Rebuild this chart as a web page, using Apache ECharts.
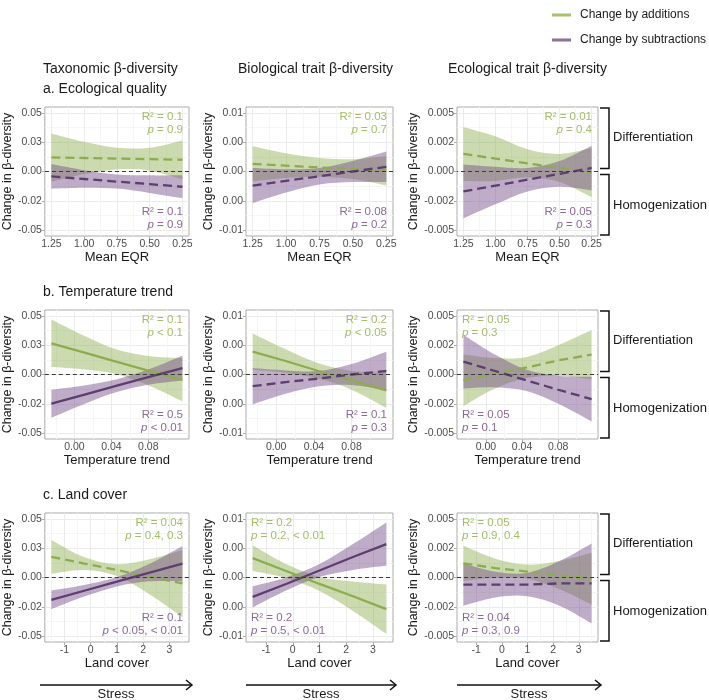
<!DOCTYPE html>
<html>
<head>
<meta charset="utf-8">
<script src="https://cdn.jsdelivr.net/npm/echarts@6/dist/echarts.min.js"></script>
<style>html,body{margin:0;padding:0;background:#fff}#chart{width:709px;height:700px}</style>
</head>
<body>
<div id="chart"></div>
<script>
const xEqr = [1.25, 1.0, 0.75, 0.5, 0.25];
const xTemp = [-0.025, 0.01, 0.045, 0.08, 0.117];
const xLand = [-1.5, -0.25, 1, 2.25, 3.5];

// a. Ecological quality
const taxEqrAddFit = [0.0120, 0.0115, 0.0110, 0.0105, 0.0100];
const taxEqrAddLo  = [-0.0085, -0.0023, 0.0018, 0.0007, -0.0065];
const taxEqrAddHi  = [0.0325, 0.0253, 0.0202, 0.0203, 0.0265];
const taxEqrSubFit = [-0.0042, -0.0064, -0.0086, -0.0108, -0.0130];
const taxEqrSubLo  = [-0.0147, -0.0139, -0.0146, -0.0183, -0.0228];
const taxEqrSubHi  = [0.0063, 0.0011, -0.0026, -0.0033, -0.0032];

const bioEqrAddFit = [0.0013, 0.0010, 0.0007, 0.0004, 0.0001];
const bioEqrAddLo  = [-0.0017, -0.0011, -0.0009, -0.0013, -0.0024];
const bioEqrAddHi  = [0.0043, 0.0031, 0.0023, 0.0021, 0.0026];
const bioEqrSubFit = [-0.0024, -0.0016, -0.0008, 0.0000, 0.0008];
const bioEqrSubLo  = [-0.0054, -0.0036, -0.0022, -0.0018, -0.0018];
const bioEqrSubHi  = [0.0006, 0.0004, 0.0006, 0.0018, 0.0034];

const ecoEqrAddFit = [0.0015, 0.0011, 0.0007, 0.0003, -0.0001];
const ecoEqrAddLo  = [-0.0008, -0.0008, -0.0005, -0.0009, -0.0022];
const ecoEqrAddHi  = [0.0038, 0.0030, 0.0019, 0.0015, 0.0020];
const ecoEqrSubFit = [-0.0017, -0.0012, -0.0007, -0.0002, 0.0003];
const ecoEqrSubLo  = [-0.0040, -0.0028, -0.0017, -0.0013, -0.0016];
const ecoEqrSubHi  = [0.0006, 0.0004, 0.0003, 0.0009, 0.0022];

// b. Temperature trend
const taxTempAddFit = [0.0266, 0.0188, 0.0110, 0.0033, -0.0045];
const taxTempAddLo  = [0.0063, 0.0043, 0.0005, -0.0092, -0.0230];
const taxTempAddHi  = [0.0469, 0.0333, 0.0215, 0.0158, 0.0140];
const taxTempSubFit = [-0.0249, -0.0173, -0.0097, -0.0022, 0.0054];
const taxTempSubLo  = [-0.0369, -0.0253, -0.0152, -0.0087, -0.0051];
const taxTempSubHi  = [-0.0129, -0.0093, -0.0042, 0.0043, 0.0159];

const bioTempAddFit = [0.0039, 0.0023, 0.0006, -0.0010, -0.0027];
const bioTempAddLo  = [0.0008, 0.0003, -0.0007, -0.0026, -0.0057];
const bioTempAddHi  = [0.0070, 0.0043, 0.0019, 0.0006, 0.0003];
const bioTempSubFit = [-0.0020, -0.0013, -0.0007, 0.0000, 0.0006];
const bioTempSubLo  = [-0.0051, -0.0033, -0.0020, -0.0018, -0.0027];
const bioTempSubHi  = [0.0011, 0.0007, 0.0006, 0.0018, 0.0039];

const ecoTempAddFit = [-0.0005, 0.0001, 0.0006, 0.0012, 0.0017];
const ecoTempAddLo  = [-0.0027, -0.0012, -0.0003, -0.0001, -0.0004];
const ecoTempAddHi  = [0.0017, 0.0014, 0.0015, 0.0025, 0.0038];
const ecoTempSubFit = [0.0011, 0.0003, -0.0005, -0.0013, -0.0021];
const ecoTempSubLo  = [-0.0012, -0.0011, -0.0014, -0.0025, -0.0040];
const ecoTempSubHi  = [0.0034, 0.0017, 0.0004, -0.0001, -0.0002];

// c. Land cover
const taxLandAddFit = [0.0176, 0.0119, 0.0063, 0.0006, -0.0051];
const taxLandAddLo  = [0.0032, 0.0064, 0.0013, -0.0144, -0.0336];
const taxLandAddHi  = [0.0320, 0.0174, 0.0113, 0.0156, 0.0234];
const taxLandSubFit = [-0.0190, -0.0113, -0.0036, 0.0042, 0.0119];
const taxLandSubLo  = [-0.0270, -0.0163, -0.0076, -0.0033, -0.0031];
const taxLandSubHi  = [-0.0110, -0.0063, 0.0004, 0.0117, 0.0269];

const bioLandAddFit = [0.0033, 0.0011, -0.0011, -0.0032, -0.0054];
const bioLandAddLo  = [0.0011, -0.0001, -0.0023, -0.0057, -0.0096];
const bioLandAddHi  = [0.0055, 0.0023, 0.0001, -0.0007, -0.0012];
const bioLandSubFit = [-0.0033, -0.0011, 0.0012, 0.0035, 0.0057];
const bioLandSubLo  = [-0.0051, -0.0022, 0.0001, 0.0013, 0.0020];
const bioLandSubHi  = [-0.0015, 0.0000, 0.0023, 0.0057, 0.0094];

const ecoLandAddFit = [0.0012, 0.0008, 0.0005, 0.0002, -0.0001];
const ecoLandAddLo  = [-0.0003, 0.0000, -0.0001, -0.0010, -0.0023];
const ecoLandAddHi  = [0.0027, 0.0016, 0.0011, 0.0014, 0.0021];
const ecoLandSubFit = [-0.0006, -0.0006, -0.0006, -0.0005, -0.0005];
const ecoLandSubLo  = [-0.0024, -0.0017, -0.0016, -0.0024, -0.0039];
const ecoLandSubHi  = [0.0012, 0.0005, 0.0004, 0.0014, 0.0029];

// panel order: a1 a2 a3 b1 b2 b3 c1 c2 c3
const addDashed = [true, true, true, false, false, true, true, false, true];
const subDashed = [true, true, true, false, true, true, false, false, true];
const addR2 = ['0.1', '0.03', '0.01', '0.1', '0.2', '0.05', '0.04', '0.2', '0.05'];
const addP  = ['= 0.9', '= 0.7', '= 0.4', '< 0.1', '< 0.05', '= 0.3', '= 0.4, 0.3', '= 0.2, < 0.01', '= 0.9, 0.4'];
const subR2 = ['0.1', '0.08', '0.05', '0.5', '0.1', '0.05', '0.1', '0.2', '0.04'];
const subP  = ['= 0.9', '= 0.2', '= 0.3', '< 0.01', '= 0.3', '= 0.1', '< 0.05, < 0.01', '= 0.5, < 0.01', '= 0.3, 0.9'];
const noteSide = ['right', 'right', 'right', 'right', 'right', 'left', 'right', 'left', 'left'];

// axis ticks and labels
const yTicksTax = [-0.05, -0.025, 0, 0.025, 0.05];
const yLabelsTax = ['-0.05', '-0.02', '0.00', '0.03', '0.05'];
const yTicksBio = [-0.01, -0.005, 0, 0.005, 0.01];
const yLabelsBio = ['-0.01', '0.00', '0.00', '0.00', '0.01'];
const yTicksEco = [-0.005, -0.0025, 0, 0.0025, 0.005];
const yLabelsEco = ['-0.005', '-0.002', '0.000', '0.002', '0.005'];
const xTicksEqr = [0.25, 0.5, 0.75, 1.0, 1.25];
const xLabelsEqr = ['0.25', '0.50', '0.75', '1.00', '1.25'];
const xTicksTemp = [0, 0.04, 0.08];
const xLabelsTemp = ['0.00', '0.04', '0.08'];
const xTicksLand = [-1, 0, 1, 2, 3];
const xLabelsLand = ['-1', '0', '1', '2', '3'];

const columnTitles = ['Taxonomic β-diversity', 'Biological trait β-diversity', 'Ecological trait β-diversity'];
const rowTitles = ['a. Ecological quality', 'b. Temperature trend', 'c. Land cover'];
const xNames = ['Mean EQR', 'Temperature trend', 'Land cover'];
const legendNames = ['Change by additions', 'Change by subtractions'];

const FONT = '"Liberation Sans", Arial, sans-serif';
const GREEN_LINE = '#8dac4f';
const PURPLE_LINE = '#5e3e6e';
const GREEN_FILL = 'rgba(141,176,78,0.45)';
const PURPLE_FILL = 'rgba(112,72,132,0.45)';
const GREEN_TEXT = '#a4bd69';
const PURPLE_TEXT = '#8a6b97';

// layout of the 3x3 panels
const colLeft = [40, 246, 457];
const colWidth = [149, 147, 141];
const rowTop = [107, 310, 513];
const rowHeight = 129;
const yNameGap = [25, 25, 32];

const panelSeries = [
  [taxEqrAddFit, taxEqrAddLo, taxEqrAddHi, taxEqrSubFit, taxEqrSubLo, taxEqrSubHi],
  [bioEqrAddFit, bioEqrAddLo, bioEqrAddHi, bioEqrSubFit, bioEqrSubLo, bioEqrSubHi],
  [ecoEqrAddFit, ecoEqrAddLo, ecoEqrAddHi, ecoEqrSubFit, ecoEqrSubLo, ecoEqrSubHi],
  [taxTempAddFit, taxTempAddLo, taxTempAddHi, taxTempSubFit, taxTempSubLo, taxTempSubHi],
  [bioTempAddFit, bioTempAddLo, bioTempAddHi, bioTempSubFit, bioTempSubLo, bioTempSubHi],
  [ecoTempAddFit, ecoTempAddLo, ecoTempAddHi, ecoTempSubFit, ecoTempSubLo, ecoTempSubHi],
  [taxLandAddFit, taxLandAddLo, taxLandAddHi, taxLandSubFit, taxLandSubLo, taxLandSubHi],
  [bioLandAddFit, bioLandAddLo, bioLandAddHi, bioLandSubFit, bioLandSubLo, bioLandSubHi],
  [ecoLandAddFit, ecoLandAddLo, ecoLandAddHi, ecoLandSubFit, ecoLandSubLo, ecoLandSubHi],
];

const rowX = [
  { x: xEqr, min: 0.2, max: 1.3, inverse: true, ticks: xTicksEqr, labels: xLabelsEqr, minor: [0.375, 0.625, 0.875, 1.125] },
  { x: xTemp, min: -0.0321, max: 0.1241, inverse: false, ticks: xTicksTemp, labels: xLabelsTemp, minor: [-0.02, 0.02, 0.06, 0.1] },
  { x: xLand, min: -1.75, max: 3.75, inverse: false, ticks: xTicksLand, labels: xLabelsLand, minor: [-1.5, -0.5, 0.5, 1.5, 2.5, 3.5] },
];
const colY = [
  { lim: 0.055, ticks: yTicksTax, labels: yLabelsTax, minor: [-0.0375, -0.0125, 0.0125, 0.0375] },
  { lim: 0.011, ticks: yTicksBio, labels: yLabelsBio, minor: [-0.0075, -0.0025, 0.0025, 0.0075] },
  { lim: 0.0055, ticks: yTicksEco, labels: yLabelsEco, minor: [-0.00375, -0.00125, 0.00125, 0.00375] },
];

const labelOf = (ticks, labels) => (v) => {
  const k = ticks.findIndex(t => Math.abs(t - v) < 1e-9);
  return k >= 0 ? labels[k] : '';
};

// smooth curve through pixel points (Catmull-Rom as cubic Beziers)
function curveTo(pts) {
  let d = '';
  for (let i = 0; i < pts.length - 1; i++) {
    const p0 = pts[i - 1] || pts[i], p1 = pts[i], p2 = pts[i + 1], p3 = pts[i + 2] || pts[i + 1];
    const c1 = [p1[0] + (p2[0] - p0[0]) / 6, p1[1] + (p2[1] - p0[1]) / 6];
    const c2 = [p2[0] - (p3[0] - p1[0]) / 6, p2[1] - (p3[1] - p1[1]) / 6];
    d += 'C' + c1[0] + ',' + c1[1] + ' ' + c2[0] + ',' + c2[1] + ' ' + p2[0] + ',' + p2[1];
  }
  return d;
}

// confidence band as one filled shape, built from [x, lo, hi] items via the axes
function bandSeries(gi, xs, lo, hi, fill) {
  return {
    type: 'custom', xAxisIndex: 2 * gi, yAxisIndex: 2 * gi, silent: true, z: 2,
    data: xs.map((v, k) => [v, lo[k], hi[k]]),
    encode: { x: 0, y: [1, 2] },
    renderItem: (params, api) => {
      if (params.dataIndexInside !== 0) return null;
      const n = params.dataInsideLength;
      const up = [], dn = [];
      for (let k = 0; k < n; k++) {
        up.push(api.coord([api.value(0, k), api.value(2, k)]));
        dn.push(api.coord([api.value(0, k), api.value(1, k)]));
      }
      const back = dn.slice().reverse();
      const d = 'M' + up[0][0] + ',' + up[0][1] + curveTo(up) + 'L' + back[0][0] + ',' + back[0][1] + curveTo(back) + 'Z';
      return { type: 'path', shape: { pathData: d }, style: { fill: fill, stroke: null } };
    },
  };
}

const grids = [], xAxes = [], yAxes = [], series = [], graphics = [];

for (let r = 0; r < 3; r++) {
  for (let c = 0; c < 3; c++) {
    const gi = r * 3 + c;
    const rx = rowX[r], cy = colY[c];
    const left = colLeft[c], top = rowTop[r], w = colWidth[c], h = rowHeight;
    grids.push({ left, top, width: w, height: h, show: true, borderColor: '#ababab', borderWidth: 1, backgroundColor: '#fff' });

    xAxes.push({
      gridIndex: gi, type: 'value', min: rx.min, max: rx.max, inverse: rx.inverse, position: 'bottom',
      axisLine: { show: false, onZero: false },
      axisTick: { show: true, length: 3, customValues: rx.ticks, lineStyle: { color: '#ababab' } },
      axisLabel: { customValues: rx.ticks, formatter: labelOf(rx.ticks, rx.labels), margin: 3, fontSize: 10.5, color: '#4d4d4d', fontFamily: FONT },
      splitLine: { show: true, lineStyle: { color: '#ebebeb', width: 1 } },
      name: xNames[r], nameLocation: 'middle', nameGap: 12,
      nameTextStyle: { fontSize: 13, color: '#1a1a1a', fontFamily: FONT },
    });
    xAxes.push({
      gridIndex: gi, type: 'value', min: rx.min, max: rx.max, inverse: rx.inverse, position: 'top',
      axisLine: { show: false, onZero: false }, axisTick: { show: false, customValues: rx.minor }, axisLabel: { show: false },
      splitLine: { show: true, lineStyle: { color: '#f5f5f5', width: 1 } },
    });
    yAxes.push({
      gridIndex: gi, type: 'value', min: -cy.lim, max: cy.lim, position: 'left',
      axisLine: { show: false, onZero: false },
      axisTick: { show: true, length: 3, customValues: cy.ticks, lineStyle: { color: '#ababab' } },
      axisLabel: { customValues: cy.ticks, formatter: labelOf(cy.ticks, cy.labels), margin: 3, fontSize: 10.5, color: '#4d4d4d', fontFamily: FONT },
      splitLine: { show: true, lineStyle: { color: '#ebebeb', width: 1 } },
      name: 'Change in β-diversity', nameLocation: 'middle', nameGap: yNameGap[c],
      nameTextStyle: { fontSize: 12.5, color: '#1a1a1a', fontFamily: FONT },
    });
    yAxes.push({
      gridIndex: gi, type: 'value', min: -cy.lim, max: cy.lim, position: 'right',
      axisLine: { show: false, onZero: false }, axisTick: { show: false, customValues: cy.minor }, axisLabel: { show: false },
      splitLine: { show: true, lineStyle: { color: '#f5f5f5', width: 1 } },
    });

    const [aFit, aLo, aHi, sFit, sLo, sHi] = panelSeries[gi];
    const xs = rx.x;
    series.push(bandSeries(gi, xs, aLo, aHi, GREEN_FILL));
    series.push(bandSeries(gi, xs, sLo, sHi, PURPLE_FILL));
    // dashed zero reference line
    series.push({
      type: 'line', xAxisIndex: 2 * gi, yAxisIndex: 2 * gi, data: [], silent: true, z: 3,
      markLine: {
        silent: true, symbol: ['none', 'none'], label: { show: false },
        lineStyle: { color: '#3a3a3a', type: [4, 3], width: 1 },
        data: [{ yAxis: 0 }],
      },
    });
    const common = { type: 'line', xAxisIndex: 2 * gi, yAxisIndex: 2 * gi, symbol: 'none', silent: true, z: 4 };
    series.push(Object.assign({}, common, { name: legendNames[0], data: xs.map((v, k) => [v, aFit[k]]), lineStyle: { color: GREEN_LINE, width: 2.3, type: addDashed[gi] ? [9, 5] : 'solid' } }));
    series.push(Object.assign({}, common, { name: legendNames[1], data: xs.map((v, k) => [v, sFit[k]]), lineStyle: { color: PURPLE_LINE, width: 2.3, type: subDashed[gi] ? [9, 5] : 'solid' } }));

    // R² / p annotations
    const right = noteSide[gi] === 'right';
    const tx = right ? left + w - 6 : left + 5;
    const align = right ? 'right' : 'left';
    const note = (text, y, fill) => ({
      type: 'text', z: 10,
      style: { text, x: tx, y, fill, fontSize: 11.5, fontFamily: FONT, textAlign: align, textVerticalAlign: 'middle',
        rich: { i: { fontStyle: 'italic', fill, fontSize: 11.5, fontFamily: FONT } } },
    });
    graphics.push(note('R² = ' + addR2[gi], top + 10, GREEN_TEXT));
    graphics.push(note('{i|p} ' + addP[gi], top + 23, GREEN_TEXT));
    graphics.push(note('R² = ' + subR2[gi], top + h - 24, PURPLE_TEXT));
    graphics.push(note('{i|p} ' + subP[gi], top + h - 11, PURPLE_TEXT));
  }
}

// legend
const legendY = [15, 40];
const legendColors = ['#a8c070', '#8b6f96'];
legendNames.forEach((t, k) => {
  graphics.push({ type: 'line', shape: { x1: 552, y1: legendY[k], x2: 571, y2: legendY[k] }, style: { stroke: legendColors[k], lineWidth: 3 } });
  graphics.push({ type: 'text', style: { text: t, x: 580, y: legendY[k], fontSize: 12, fontFamily: FONT, fill: '#1a1a1a', textVerticalAlign: 'middle' } });
});

// column and row titles
const colTitleX = [43, 238, 448];
columnTitles.forEach((t, c) => graphics.push({ type: 'text', style: { text: t, x: colTitleX[c], y: 69, fontSize: 14, fontFamily: FONT, fill: '#1a1a1a', textVerticalAlign: 'middle' } }));
rowTitles.forEach((t, r) => graphics.push({ type: 'text', style: { text: t, x: 43, y: rowTop[r] - 18, fontSize: 14, fontFamily: FONT, fill: '#1a1a1a', textVerticalAlign: 'middle' } }));

// brackets on the right
for (let r = 0; r < 3; r++) {
  const top = rowTop[r], bottom = rowTop[r] + rowHeight, zero = rowTop[r] + rowHeight / 2;
  const bx0 = 600, bx1 = 609;
  graphics.push({ type: 'polyline', shape: { points: [[bx0, top + 1], [bx1, top + 1], [bx1, zero - 3], [bx0, zero - 3]] }, style: { stroke: '#111', lineWidth: 1.5, fill: null } });
  graphics.push({ type: 'polyline', shape: { points: [[bx0, zero + 3], [bx1, zero + 3], [bx1, bottom - 1], [bx0, bottom - 1]] }, style: { stroke: '#111', lineWidth: 1.5, fill: null } });
  graphics.push({ type: 'text', style: { text: 'Differentiation', x: 613, y: (top + zero - 3) / 2, fontSize: 13, fontFamily: FONT, fill: '#1a1a1a', textVerticalAlign: 'middle' } });
  graphics.push({ type: 'text', style: { text: 'Homogenization', x: 613, y: (zero + 3 + bottom) / 2, fontSize: 13, fontFamily: FONT, fill: '#1a1a1a', textVerticalAlign: 'middle' } });
}

// stress arrows under each column
for (let c = 0; c < 3; c++) {
  const x0 = colLeft[c], x1 = colLeft[c] + colWidth[c] + 3, ay = 685;
  graphics.push({ type: 'line', shape: { x1: x0, y1: ay, x2: x1, y2: ay }, style: { stroke: '#111', lineWidth: 1.5 } });
  graphics.push({ type: 'polyline', shape: { points: [[x1 - 6, ay - 5], [x1, ay], [x1 - 6, ay + 5]] }, style: { stroke: '#111', lineWidth: 1.5, fill: null } });
  graphics.push({ type: 'text', style: { text: 'Stress', x: (x0 + x1) / 2, y: 694, fontSize: 13, fontFamily: FONT, fill: '#1a1a1a', textAlign: 'center', textVerticalAlign: 'middle' } });
}

const chart = echarts.init(document.getElementById('chart'), null, { renderer: 'canvas' });
chart.setOption({
  animation: false,
  backgroundColor: '#fff',
  grid: grids,
  xAxis: xAxes,
  yAxis: yAxes,
  series,
  graphic: { elements: graphics },
});
</script>
</body>
</html>
